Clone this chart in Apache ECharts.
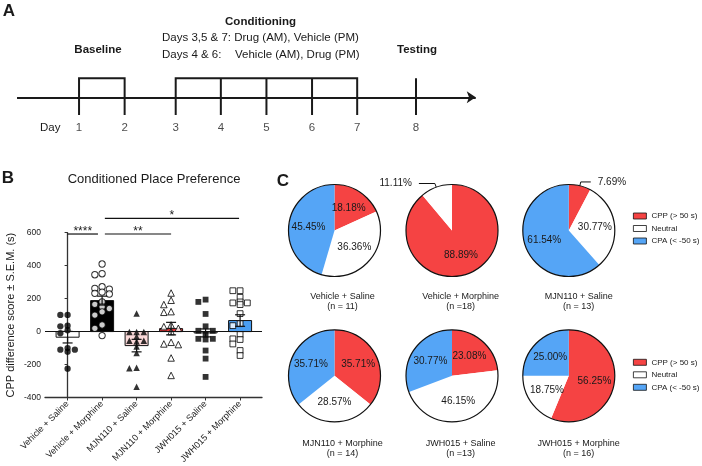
<!DOCTYPE html>
<html><head><meta charset="utf-8">
<script src="https://cdn.jsdelivr.net/npm/echarts@6/dist/echarts.min.js"></script>
<style>html,body{margin:0;padding:0;background:#fff}#c{width:702px;height:466px}</style>
</head><body><div id="c"></div>
<script>
const FONT = 'Arial, "Liberation Sans", Helvetica, sans-serif';
const INK = '#1a1a1a';

// ---------- Panel A: timeline ----------
const dayLabels = ['1', '2', '3', '4', '5', '6', '7', '8'];
const dayPos = [1, 2, 3.12, 4.11, 5.11, 6.11, 7.1, 8.39];   // position of each day along the timeline
const baselineDays = [0, 1];          // indices into dayPos
const conditioningDays = [2, 3, 4, 5, 6];
const testingDays = [7];
const timelineRange = [-0.4, 9.8];

// ---------- Panel B: CPP scores ----------
const groups = ['Vehicle + Saline', 'Vehicle + Morphine', 'MJN110 + Saline', 'MJN110 + Morphine', 'JWH015 + Saline', 'JWH015 + Morphine'];
const means = [-34, 188, -85, 18, -8, 67];
const sems = [35, 27, 38, 38, 24, 35];
const vehSal = [101, 101, 36, 32, 8, -10, -100, -110, -110, -122, -225];
const vehMor = [410, 351, 345, 272, 262, 258, 240, 232, 228, 180, 165, 150, 140, 120, 100, 40, 20, -24];
const mjnSal = [109, -2, -2, -2, -30, -55, -55, -60, -90, -130, -220, -222, -335];
const mjnMor = [234, 190, 164, 121, 117, 40, 30, 20, 0, -65, -75, -79, -160, -266];
const jwhSal = [194, 180, 107, 32, 5, 5, -18, -44, -44, -48, -115, -164, -275];
const jwhMor = [248, 248, 208, 180, 174, 174, 164, 109, 48, 36, -18, -44, -48, -75, -115, -145];
const yTicks = [-400, -200, 0, 200, 400, 600];
const sigFrom = [0, 1.08, 1.08];
const sigTo = [0.88, 3.0, 4.97];
const sigLevel = [592, 592, 687];
const sigLabels = ['****', '**', '*'];

// ---------- Panel C: pies ----------
const pieNames = ['CPP (> 50 s)', 'Neutral', 'CPA (< -50 s)'];
const pieCounts = [[2, 4, 5], [16, 2, 0], [1, 4, 8], [5, 4, 5], [3, 6, 4], [9, 3, 4]];
const pieNLabels = ['(n = 11)', '(n =18)', '(n = 13)', '(n = 14)', '(n =13)', '(n = 16)'];

// ---------- styles / layout ----------
const barColors = ['#ffffff', '#000000', '#fbd9d9', '#e8383b', '#ffffff', '#4a9ef2'];
const pieColors = ['#f54343', '#ffffff', '#55a5f6'];
const pieCols = [334.5, 452, 568.8];
const pieRows = [230.5, 375.8];
const pieRadius = 46;
const pieLabelR = 0.57;
const pieTextCols = [342.5, 460.7, 578.7];
const pieTextRows = [[296.7, 306.7], [443.3, 453.3]];
const legendTops = [212, 358.3];
const gridB = {left: 45, top: 232.7, width: 217, height: 165};
const xMinB = -0.655, xMaxB = 5.635;

const pointSets = [vehSal, vehMor, mjnSal, mjnMor, jwhSal, jwhMor];
const pointSymbols = ['circle', 'circle', 'triangle', 'triangle', 'rect', 'rect'];
const pointFilled = [true, false, true, false, true, false];
const pointSizes = [6.3, 6.3, 6.5, 6.5, 5.8, 5.8];

// simple beeswarm: spread points that would overlap across three columns
function swarm(vals, gi) {
  const pxX = gridB.width / (xMaxB - xMinB), pxY = gridB.height / 1000;
  const sorted = vals.slice().sort((a, b) => b - a);
  const placed = [];
  const cand = [0, -0.21, 0.21];
  sorted.forEach(v => {
    let best = null, bestD = -1;
    for (const o of cand) {
      const d = placed.length ? Math.min(...placed.map(p => Math.hypot((p[0] - o) * pxX, (p[1] - v) * pxY))) : 99;
      if (d >= 4.6) { best = o; break; }
      if (d > bestD) { bestD = d; best = o; }
    }
    placed.push([best, v]);
  });
  return placed.map(p => [gi + p[0], p[1]]);
}

const chart = echarts.init(document.getElementById('c'), null, {renderer: 'canvas'});
const series = [];

// Timeline (panel A)
const tTop = 1, tBot = -0.93;
const tl = [];
tl.push({coords: [[dayPos[baselineDays[0]], tBot], [dayPos[baselineDays[0]], tTop], [dayPos[baselineDays[1]], tTop], [dayPos[baselineDays[1]], tBot]]});
const c0 = dayPos[conditioningDays[0]], c1 = dayPos[conditioningDays[conditioningDays.length - 1]];
tl.push({coords: [[c0, tBot], [c0, tTop], [c1, tTop], [c1, tBot]]});
conditioningDays.slice(1, -1).forEach(i => tl.push({coords: [[dayPos[i], tBot], [dayPos[i], tTop]]}));
testingDays.forEach(i => tl.push({coords: [[dayPos[i], tBot], [dayPos[i], tTop]]}));
series.push({type: 'lines', coordinateSystem: 'cartesian2d', xAxisIndex: 0, yAxisIndex: 0, polyline: true,
  silent: true, data: tl, lineStyle: {color: INK, width: 2, opacity: 1}, symbol: 'none'});
series.push({type: 'lines', coordinateSystem: 'cartesian2d', xAxisIndex: 0, yAxisIndex: 0,
  silent: true, data: [{coords: [[timelineRange[0] + 0.04, 0], [timelineRange[1] - 0.1, 0]]}],
  lineStyle: {color: INK, width: 2, opacity: 1}, symbol: ['none', 'arrow'], symbolSize: 9});
series.push({type: 'scatter', xAxisIndex: 0, yAxisIndex: 0, symbolSize: 1, itemStyle: {color: 'rgba(0,0,0,0)'},
  silent: true, data: dayPos.map((p, i) => [p, -1.6, i]),
  label: {show: true, position: 'inside', formatter: p => dayLabels[p.value[2]], fontSize: 11.5, color: INK, fontFamily: FONT}});

// Panel B: bars
series.push({type: 'custom', xAxisIndex: 1, yAxisIndex: 1, z: 2, silent: true,
  data: means.map((m, i) => [i, m]),
  renderItem: (params, api) => {
    const x = api.value(0), m = api.value(1);
    const p0 = api.coord([x, 0]), p1 = api.coord([x, m]);
    const w = 23;
    return {type: 'rect', shape: {x: p0[0] - w / 2, y: Math.min(p0[1], p1[1]), width: w, height: Math.abs(p1[1] - p0[1])},
      style: {fill: barColors[params.dataIndex], stroke: '#111', lineWidth: 1}};
  },
  markLine: {silent: true, symbol: 'none', label: {show: false}, lineStyle: {color: '#111', width: 1, type: 'solid'}, data: [{yAxis: 0}]}
});
// points
pointSets.forEach((vals, gi) => {
  series.push({type: 'scatter', xAxisIndex: 1, yAxisIndex: 1, z: 3, silent: true,
    symbol: pointSymbols[gi], symbolSize: pointSizes[gi],
    itemStyle: pointFilled[gi] ? {color: '#000'} : {color: '#fff', borderColor: '#000', borderWidth: 1},
    data: swarm(vals, gi)});
});
// error bars
series.push({type: 'custom', xAxisIndex: 1, yAxisIndex: 1, z: 4, silent: true,
  data: means.map((m, i) => [i, m - sems[i], m + sems[i]]),
  renderItem: (params, api) => {
    const x = api.value(0);
    const lo = api.coord([x, api.value(1)]), hi = api.coord([x, api.value(2)]);
    const cw = 5, st = {stroke: '#111', lineWidth: 1.2};
    return {type: 'group', children: [
      {type: 'line', shape: {x1: lo[0], y1: lo[1], x2: hi[0], y2: hi[1]}, style: st},
      {type: 'line', shape: {x1: lo[0] - cw, y1: lo[1], x2: lo[0] + cw, y2: lo[1]}, style: st},
      {type: 'line', shape: {x1: hi[0] - cw, y1: hi[1], x2: hi[0] + cw, y2: hi[1]}, style: st}
    ]};
  }});
// significance bars
series.push({type: 'custom', xAxisIndex: 1, yAxisIndex: 1, z: 4, silent: true, clip: false,
  data: sigFrom.map((f, i) => [f, sigTo[i], sigLevel[i]]),
  renderItem: (params, api) => {
    const a = api.coord([api.value(0), api.value(2)]), b = api.coord([api.value(1), api.value(2)]);
    return {type: 'group', children: [
      {type: 'line', shape: {x1: a[0], y1: a[1], x2: b[0], y2: b[1]}, style: {stroke: '#111', lineWidth: 1.2}},
      {type: 'text', style: {x: (a[0] + b[0]) / 2, y: a[1] - 2.5, text: sigLabels[params.dataIndex], align: 'center', verticalAlign: 'middle', fontSize: 12, fill: INK, fontFamily: FONT}}
    ]};
  }});

// Panel C: pies
pieCounts.forEach((counts, k) => {
  const total = counts.reduce((a, b) => a + b, 0);
  const center = [pieCols[k % 3], pieRows[Math.floor(k / 3)]];
  // mid angle (clockwise from 12 o'clock) of each slice
  const mids = [];
  let acc = 0;
  counts.forEach(c => { mids.push((acc + c / 2) / total * 2 * Math.PI); acc += c; });
  series.push({type: 'pie', center, radius: pieRadius, startAngle: 90, clockwise: true, silent: true,
    avoidLabelOverlap: false, z: 2,
    itemStyle: {borderWidth: 0},
    labelLine: {length: 4, length2: 11, lineStyle: {color: '#111', width: 1}},
    labelLayout: params => {
      const j = params.dataIndex;
      if (counts[j] / total < 0.15) return {};
      return {x: center[0] + pieLabelR * pieRadius * Math.sin(mids[j]),
              y: center[1] - pieLabelR * pieRadius * Math.cos(mids[j]), align: 'center', verticalAlign: 'middle'};
    },
    data: counts.map((c, j) => {
      const outside = c / total < 0.15;
      const leftSide = Math.sin(mids[j]) < 0;
      return {name: pieNames[j], value: c, itemStyle: {color: pieColors[j]},
        label: {show: c > 0, position: outside ? 'outside' : 'inside', distanceToLabelLine: 7,
          formatter: () => (c / total * 100).toFixed(2) + '%', fontSize: 10, color: INK, fontFamily: FONT},
        labelLine: {show: outside && c > 0, length: 4, length2: leftSide ? 16 : 10}};
    })});
  series.push({type: 'pie', center, radius: pieRadius, silent: true, z: 3, label: {show: false}, labelLine: {show: false},
    data: [{name: '_outline', value: 1, itemStyle: {color: 'rgba(0,0,0,0)', borderColor: '#111', borderWidth: 1.2}}]});
});

// texts
const graphic = [];
function txt(x, y, text, o = {}) {
  graphic.push({type: 'text', x, y, silent: true, style: Object.assign({text, fontFamily: FONT, fontSize: 11.5, fill: INK,
    align: 'center', verticalAlign: 'middle'}, o)});
}
txt(9, 11, 'A', {fontSize: 17, fontWeight: 'bold'});
txt(8, 178, 'B', {fontSize: 17, fontWeight: 'bold'});
txt(283, 181, 'C', {fontSize: 17, fontWeight: 'bold'});
txt(260.5, 21.5, 'Conditioning', {fontWeight: 'bold'});
txt(162, 38.3, 'Days 3,5 & 7: Drug (AM), Vehicle (PM)', {align: 'left'});
txt(162, 54.7, 'Days 4 & 6:', {align: 'left'});
txt(235, 54.7, 'Vehicle (AM), Drug (PM)', {align: 'left'});
txt(98, 49.5, 'Baseline', {fontWeight: 'bold'});
txt(417, 49.5, 'Testing', {fontWeight: 'bold'});
txt(50.2, 127.7, 'Day');
txt(154, 179.5, 'Conditioned Place Preference', {fontSize: 13});
groups.forEach((g, k) => {
  const r = Math.floor(k / 3), c = k % 3;
  txt(pieTextCols[c], pieTextRows[r][0], g, {fontSize: 9});
  txt(pieTextCols[c], pieTextRows[r][1], pieNLabels[k], {fontSize: 9});
});

const option = {
  animation: false,
  backgroundColor: '#fff',
  textStyle: {fontFamily: FONT},
  grid: [
    {left: 15.2, top: 59.3, width: 465.1, height: 76},
    gridB
  ],
  xAxis: [
    {type: 'value', gridIndex: 0, min: timelineRange[0], max: timelineRange[1], show: false},
    {type: 'value', gridIndex: 1, min: xMinB, max: xMaxB,
      axisLine: {show: true, onZero: false, lineStyle: {color: '#333', width: 1.3}},
      axisTick: {show: true, customValues: [0, 1, 2, 3, 4, 5], length: 3, lineStyle: {color: '#333', width: 1}},
      axisLabel: {show: true, customValues: [0, 1, 2, 3, 4, 5], formatter: v => groups[Math.round(v)] || '', rotate: 45,
        fontSize: 9, color: INK, margin: 5, fontFamily: FONT},
      splitLine: {show: false}}
  ],
  yAxis: [
    {type: 'value', gridIndex: 0, min: -2, max: 2, show: false},
    {type: 'value', gridIndex: 1, min: yTicks[0], max: yTicks[yTicks.length - 1], interval: 200,
      axisLine: {show: true, lineStyle: {color: '#333', width: 1.3}},
      axisTick: {show: true, length: 3, lineStyle: {color: '#333'}},
      axisLabel: {fontSize: 8.5, color: INK, margin: 4, fontFamily: FONT},
      splitLine: {show: false},
      name: 'CPP difference score \u00b1 S.E.M. (s)', nameLocation: 'middle', nameRotate: 90, nameGap: 29,
      nameTextStyle: {fontSize: 11, color: INK, fontFamily: FONT}}
  ],
  legend: legendTops.map(t => ({
    orient: 'vertical', left: 633, top: t, padding: 0, itemWidth: 13, itemHeight: 6, itemGap: 4.5, icon: 'rect',
    itemTextGap: 5, selectedMode: false, data: pieNames,
    itemStyle: {borderColor: '#111', borderWidth: 0.8},
    textStyle: {fontSize: 8, color: INK, fontFamily: FONT, overflow: 'none'}
  })),
  graphic,
  series
};
chart.setOption(option);
</script></body></html>
